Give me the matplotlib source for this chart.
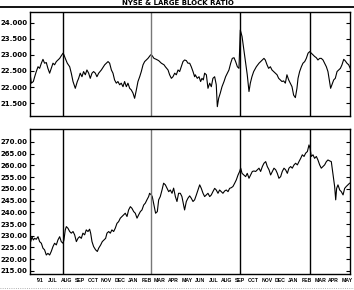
import matplotlib.pyplot as plt
from matplotlib.lines import Line2D

# x positions are in months from JUN '91 (label centres at 0, 1, 2 ...)
month_labels = ["'91", "JUL", "AUG", "SEP", "OCT", "NOV", "DEC", "JAN", "FEB", "MAR",
                "APR", "MAY", "JUN", "JUL", "AUG", "SEP", "OCT", "NOV", "DEC", "JAN",
                "FEB", "MAR", "APR", "MAY"]
event_months = [1.74, 8.32, 15.02, 20.22]
event_colors = ['black', '#777777', 'black', 'black']

# large block ratio (top panel)
ratio_m = [-0.73, -0.63, -0.48, -0.38, -0.26, -0.13, -0.01, 0.12, 0.24, 0.36, 0.49, 0.61,
           0.74, 0.86, 0.99, 1.11, 1.24, 1.36, 1.49, 1.61, 1.74, 1.81, 1.91, 2.06, 2.24,
           2.36, 2.49, 2.66, 2.81, 2.91, 3.03, 3.16, 3.28, 3.41, 3.53, 3.66, 3.78, 3.91,
           4.03, 4.16, 4.28, 4.41, 4.61, 4.86, 5.11, 5.23, 5.36, 5.48, 5.60, 5.73, 5.85,
           5.98, 6.10, 6.23, 6.35, 6.48, 6.60, 6.73, 6.85, 6.98, 7.10, 7.23, 7.35, 7.48,
           7.60, 7.73, 7.85, 7.97, 8.10, 8.30, 8.40, 8.55, 8.72, 8.90, 9.10, 9.30, 9.40,
           9.60, 9.72, 9.85, 9.97, 10.10, 10.22, 10.35, 10.47, 10.59, 10.72, 10.84, 10.97,
           11.09, 11.22, 11.34, 11.47, 11.59, 11.64, 11.79, 11.92, 12.04, 12.14, 12.24,
           12.34, 12.47, 12.59, 12.72, 12.84, 12.96, 13.09, 13.21, 13.29, 13.39, 13.51,
           13.64, 13.79, 13.91, 14.04, 14.16, 14.29, 14.41, 14.54, 14.66, 14.79, 14.91,
           15.01, 15.14, 15.26, 15.38, 15.53, 15.66, 15.76, 15.88, 16.01, 16.21, 16.41,
           16.58, 16.78, 16.88, 17.01, 17.13, 17.26, 17.38, 17.51, 17.63, 17.76, 17.88,
           18.00, 18.13, 18.25, 18.38, 18.50, 18.63, 18.75, 18.88, 19.00, 19.13, 19.25,
           19.33, 19.45, 19.58, 19.70, 19.83, 19.95, 20.08, 20.20, 20.33, 20.45, 20.57,
           20.70, 20.82, 20.95, 21.07, 21.20, 21.32, 21.45, 21.57, 21.65, 21.77, 21.87,
           22.00, 22.12, 22.25, 22.37, 22.50, 22.62, 22.75, 22.87, 22.99, 23.12, 23.24]
ratio_v = [22.43, 22.12, 22.17, 22.32, 22.48, 22.63, 22.58, 22.74, 22.86, 22.74, 22.76, 22.58,
           22.43, 22.58, 22.74, 22.69, 22.79, 22.84, 22.89, 22.97, 23.05, 23.00, 22.89, 22.74,
           22.63, 22.43, 22.17, 21.96, 22.17, 22.27, 22.43, 22.32, 22.48, 22.38, 22.53, 22.43,
           22.27, 22.43, 22.48, 22.43, 22.32, 22.43, 22.53, 22.69, 22.79, 22.74, 22.53, 22.43,
           22.22, 22.12, 22.17, 22.07, 22.12, 22.01, 22.17, 22.01, 22.12, 21.96, 21.91, 21.81,
           21.65, 21.91, 22.17, 22.32, 22.48, 22.69, 22.79, 22.84, 22.89, 23.00, 22.98, 22.89,
           22.86, 22.82, 22.74, 22.69, 22.63, 22.53, 22.38, 22.27, 22.32, 22.43, 22.38, 22.53,
           22.48, 22.63, 22.79, 22.84, 22.82, 22.74, 22.74, 22.63, 22.48, 22.32, 22.38, 22.27,
           22.32, 22.17, 22.27, 22.22, 22.43, 22.38, 21.96, 22.12, 22.01, 22.27, 22.32, 22.07,
           21.39, 21.65, 21.81, 22.01, 22.17, 22.32, 22.43, 22.53, 22.74, 22.89, 22.91, 22.79,
           22.63, 22.58, 23.77, 23.57, 23.20, 22.84, 22.38, 21.86, 22.12, 22.32, 22.48, 22.63,
           22.74, 22.81, 22.89, 22.84, 22.69, 22.58, 22.63, 22.53, 22.48, 22.43, 22.38, 22.27,
           22.22, 22.17, 22.19, 22.12, 22.38, 22.22, 22.12, 22.01, 21.75, 21.67, 21.96, 22.27,
           22.48, 22.63, 22.74, 22.79, 22.89, 23.05, 23.10, 23.05, 23.00, 22.95, 22.91, 22.84,
           22.89, 22.89, 22.84, 22.74, 22.63, 22.48, 22.27, 21.96, 22.07, 22.22, 22.27, 22.48,
           22.53, 22.58, 22.69, 22.86, 22.81, 22.74, 22.69, 22.58]

# NYSE composite (bottom panel)
nyse_m = [-0.73, -0.68, -0.58, -0.48, -0.38, -0.26, -0.13, -0.01, 0.12, 0.24, 0.36, 0.49,
          0.61, 0.74, 0.86, 0.99, 1.11, 1.24, 1.36, 1.49, 1.61, 1.74, 1.81, 1.91, 1.99, 2.11,
          2.24, 2.36, 2.49, 2.61, 2.74, 2.86, 2.98, 3.11, 3.23, 3.36, 3.48, 3.61, 3.73, 3.81,
          3.91, 4.03, 4.18, 4.31, 4.41, 4.56, 4.68, 4.81, 4.93, 5.03, 5.16, 5.28, 5.40, 5.53,
          5.65, 5.78, 5.90, 6.03, 6.15, 6.28, 6.40, 6.53, 6.65, 6.78, 6.90, 7.03, 7.15, 7.28,
          7.40, 7.53, 7.65, 7.78, 7.90, 8.02, 8.15, 8.22, 8.35, 8.42, 8.55, 8.67, 8.80, 8.90,
          9.02, 9.15, 9.27, 9.40, 9.52, 9.65, 9.77, 9.90, 10.02, 10.15, 10.27, 10.39, 10.52,
          10.64, 10.77, 10.84, 10.97, 11.09, 11.22, 11.34, 11.47, 11.59, 11.72, 11.84, 11.97,
          12.09, 12.22, 12.34, 12.47, 12.59, 12.72, 12.84, 12.96, 13.09, 13.21, 13.34, 13.46,
          13.59, 13.71, 13.84, 13.96, 14.09, 14.21, 14.34, 14.46, 14.59, 14.71, 14.84, 14.96,
          15.04, 15.14, 15.28, 15.41, 15.53, 15.66, 15.78, 15.91, 16.03, 16.16, 16.28, 16.41,
          16.53, 16.66, 16.78, 16.91, 17.03, 17.16, 17.28, 17.41, 17.53, 17.66, 17.78, 17.90,
          18.03, 18.15, 18.28, 18.40, 18.53, 18.65, 18.78, 18.90, 19.03, 19.15, 19.28, 19.40,
          19.53, 19.65, 19.78, 19.90, 20.03, 20.15, 20.23, 20.32, 20.45, 20.57, 20.70, 20.82,
          20.95, 21.07, 21.20, 21.32, 21.45, 21.57, 21.70, 21.82, 21.95, 22.07, 22.15, 22.22,
          22.32, 22.45, 22.57, 22.70, 22.82, 22.94, 23.07, 23.19]
nyse_v = [228.9, 227.5, 229.6, 228.2, 228.9, 228.5, 229.6, 227.5, 226.8, 224.7, 224.0, 221.8,
          222.5, 221.8, 223.3, 225.4, 226.8, 226.1, 228.2, 229.6, 227.5, 226.8, 228.2, 232.5,
          233.9, 233.2, 231.8, 231.1, 231.8, 230.4, 227.5, 228.9, 229.6, 228.9, 231.1, 230.4,
          232.5, 231.8, 232.8, 231.1, 227.5, 225.4, 224.0, 223.3, 224.7, 226.1, 227.5, 228.2,
          228.9, 231.1, 231.8, 231.1, 232.5, 231.8, 233.2, 235.3, 236.0, 237.5, 238.2, 238.9,
          239.6, 238.2, 241.0, 242.4, 241.7, 240.3, 239.6, 237.5, 238.9, 240.3, 241.0, 243.1,
          243.9, 245.3, 246.7, 248.1, 247.4, 246.7, 243.1, 239.6, 240.3, 245.3, 246.7, 249.5,
          252.4, 251.7, 250.3, 248.8, 249.5, 248.1, 250.3, 246.7, 244.6, 248.1, 248.1, 246.7,
          243.1, 241.0, 244.6, 246.0, 247.0, 246.0, 244.6, 245.3, 247.4, 249.5, 251.7, 250.2,
          248.1, 246.7, 247.4, 248.1, 246.7, 247.4, 248.8, 250.2, 249.5, 248.1, 249.5, 248.8,
          248.1, 249.1, 249.5, 248.8, 250.2, 250.5, 251.0, 252.4, 253.8, 255.9, 257.4, 258.8,
          256.6, 255.9, 255.2, 256.6, 254.5, 255.9, 257.4, 257.6, 257.4, 258.1, 258.8, 257.4,
          259.5, 260.9, 261.6, 259.5, 258.1, 255.9, 257.4, 258.8, 258.1, 256.6, 254.5, 255.2,
          257.4, 258.8, 258.1, 256.6, 258.8, 259.5, 258.8, 260.2, 260.9, 260.2, 261.6, 263.0,
          264.5, 263.8, 265.2, 265.9, 268.7, 267.3, 263.8, 264.5, 263.0, 263.8, 262.3, 260.2,
          258.8, 259.5, 260.2, 261.6, 262.3, 261.9, 261.6, 255.9, 251.0, 245.3, 250.2, 251.7,
          249.5, 248.8, 247.4, 250.2, 251.0, 251.7, 252.4]

ratio_ticks = [24.0, 23.5, 23.0, 22.5, 22.0, 21.5]
nyse_ticks = [270, 265, 260, 255, 250, 245, 240, 235, 230, 225, 220, 215]

W, H = 354, 290
fig = plt.figure(figsize=(W / 100, H / 100), dpi=100)
ax1 = fig.add_axes([30 / W, 1 - 116 / H, 320 / W, 104 / H])
ax2 = fig.add_axes([30 / W, 1 - 274 / H, 320 / W, 145 / H])

ax1.plot(ratio_m, ratio_v, color='black', lw=0.8)
ax2.plot(nyse_m, nyse_v, color='black', lw=0.8)

for ax in (ax1, ax2):
    for xm, c in zip(event_months, event_colors):
        ax.axvline(xm, color=c, lw=1.0)
    ax.set_xlim(-0.73, 23.22)
    ax.set_xticks(range(len(month_labels)))
    for sp in ax.spines.values():
        sp.set_linewidth(1.0)
    ax.tick_params(axis='y', direction='in', length=3, width=0.8, right=True,
                   labelsize=5, pad=2)
    ax.tick_params(axis='x', length=0, pad=3)

ax1.set_ylim(21.1, 24.33)
ax1.set_yticks(ratio_ticks)
ax1.set_yticklabels(['%.3f' % t for t in ratio_ticks], fontweight='bold')
ax1.set_xticklabels([])

ax2.set_ylim(213.7, 275.5)
ax2.set_yticks(nyse_ticks)
ax2.set_yticklabels(['%.2f' % t for t in nyse_ticks], fontweight='bold')
ax2.set_xticklabels(month_labels, fontweight='bold', family='Liberation Sans',
                    fontsize=3.7)

fig.text(178 / W, 1 - 0.3 / H, 'NYSE & LARGE BLOCK RATIO', ha='center', va='top',
         fontsize=5, fontweight='bold')
fig.add_artist(Line2D([0, 1], [1 - 6.5 / H] * 2, transform=fig.transFigure,
                      color='black', lw=1.3))
fig.add_artist(Line2D([0, 1], [1 - 288 / H] * 2, transform=fig.transFigure,
                      color='#999999', lw=0.6, ls=':'))

fig.savefig('out.png', dpi=100)
